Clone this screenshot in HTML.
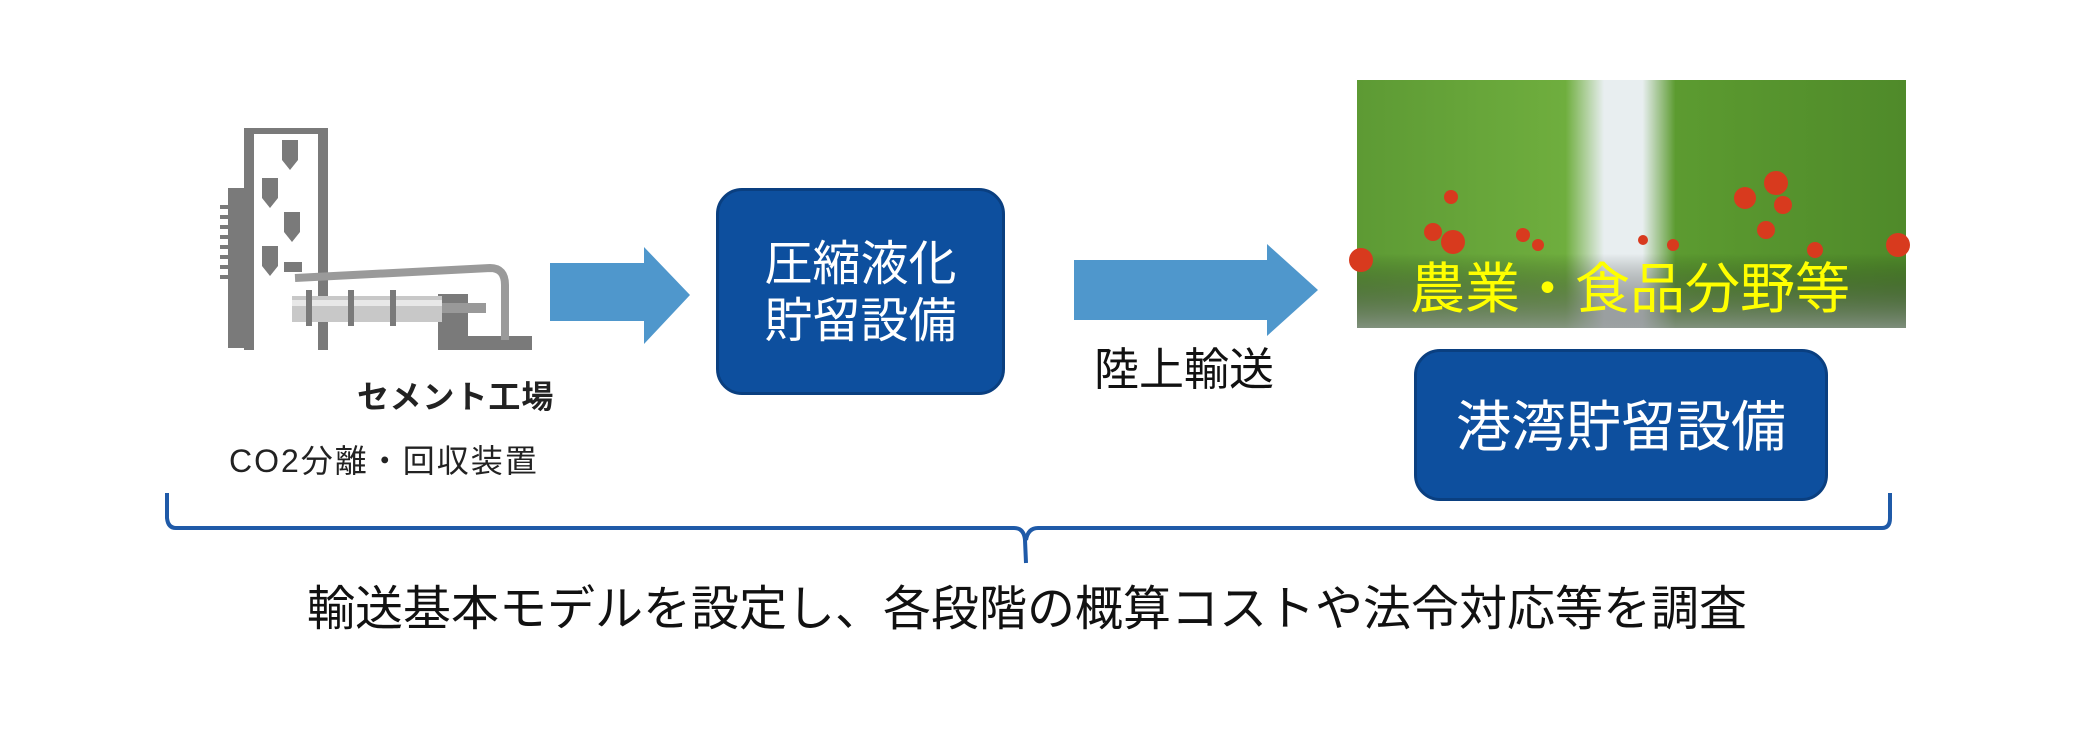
<!DOCTYPE html>
<html><head><meta charset="utf-8"><style>
body{margin:0;width:2080px;height:738px;background:#fff;position:relative;overflow:hidden;font-family:"Liberation Sans","Noto Sans CJK JP",sans-serif}
.a{position:absolute}
.box{position:absolute;background:#0d4f9e;border:3px solid #0a3f80;border-radius:26px;color:#fff;text-align:center;box-sizing:border-box}
</style></head><body>
<svg class="a" style="left:0;top:0" width="2080" height="738">
 <g fill="#7a7a7a">
  <rect x="244" y="128" width="10" height="222"/>
  <rect x="318" y="128" width="10" height="222"/>
  <rect x="244" y="128" width="84" height="6"/>
  <rect x="228" y="188" width="16" height="160"/>
  <rect x="220" y="205" width="8" height="4"/><rect x="220" y="215" width="8" height="4"/><rect x="220" y="225" width="8" height="4"/><rect x="220" y="235" width="8" height="4"/><rect x="220" y="245" width="8" height="4"/><rect x="220" y="255" width="8" height="4"/><rect x="220" y="265" width="8" height="4"/><rect x="220" y="275" width="8" height="4"/>
  <path d="M282 140h16v20l-8 10l-8-10z"/><path d="M262 178h16v20l-8 10l-8-10z"/><path d="M284 212h16v20l-8 10l-8-10z"/><path d="M262 246h16v20l-8 10l-8-10z"/>
  <rect x="284" y="262" width="18" height="10"/>
  <rect x="438" y="294" width="30" height="46"/>
  <rect x="438" y="336" width="94" height="14"/>
 </g>
 <path d="M295 278 L490 268 Q505 268 505 285 L505 340" stroke="#9a9a9a" stroke-width="8" fill="none"/>
 <rect x="292" y="296" width="150" height="26" fill="#c8c8c8"/>
 <rect x="292" y="300" width="150" height="6" fill="#e8e8e8"/>
 <g fill="#7a7a7a"><rect x="306" y="290" width="6" height="36"/><rect x="348" y="290" width="6" height="36"/><rect x="390" y="290" width="6" height="36"/></g>
 <rect x="442" y="303" width="44" height="10" fill="#999"/>
 <polygon points="550,263 644,263 644,247 690,295 644,344 644,321 550,321" fill="#4f97cc"/>
 <polygon points="1074,260 1267,260 1267,244 1318,290 1267,336 1267,320 1074,320" fill="#4f97cc"/>
 <defs>
  <linearGradient id="g1" x1="0" x2="1"><stop offset="0" stop-color="#5d9a34"/><stop offset="0.38" stop-color="#6fae3e"/><stop offset="0.45" stop-color="#e8eef0"/><stop offset="0.52" stop-color="#e8eef0"/><stop offset="0.58" stop-color="#5c9b30"/><stop offset="1" stop-color="#4f8a2a"/></linearGradient>
  <linearGradient id="g2" x1="0" y1="0" x2="0" y2="1"><stop offset="0.7" stop-color="#000" stop-opacity="0"/><stop offset="1" stop-color="#8a8f90" stop-opacity="0.8"/></linearGradient>
 </defs>
 <g transform="translate(-7,0)">
 <rect x="1364" y="80" width="549" height="248" fill="url(#g1)"/>
 <rect x="1364" y="80" width="549" height="248" fill="url(#g2)"/>
 <g fill="#d83a1e">
  <circle cx="1458" cy="197" r="7"/><circle cx="1460" cy="242" r="12"/><circle cx="1440" cy="232" r="9"/><circle cx="1368" cy="260" r="12"/><circle cx="1530" cy="235" r="7"/><circle cx="1545" cy="245" r="6"/>
  <circle cx="1783" cy="183" r="12"/><circle cx="1752" cy="198" r="11"/><circle cx="1790" cy="205" r="9"/><circle cx="1773" cy="230" r="9"/><circle cx="1822" cy="250" r="8"/><circle cx="1905" cy="245" r="12"/><circle cx="1680" cy="245" r="6"/><circle cx="1650" cy="240" r="5"/>
 </g>
 </g>
 <path d="M167 493 L167 518 Q168 528 176 528 L1014 528 Q1024 528 1025 540 L1026 563 M1026 540 Q1028 528 1038 528 L1882 528 Q1890 528 1890 518 L1890 493" stroke="#1f5aa8" stroke-width="4" fill="none"/>
</svg>
<div class="a" style="left:357px;top:372px;font-size:32px;font-weight:bold;color:#222;letter-spacing:1px">セメント工場</div>
<div class="a" style="left:229px;top:436px;font-size:32px;color:#222;letter-spacing:2px">CO2分離・回収装置</div>
<div class="box" style="left:716px;top:188px;width:289px;height:207px;font-size:48px;line-height:57px;padding-top:45px">圧縮液化<br>貯留設備</div>
<div class="a" style="left:1094px;top:333px;font-size:45px;color:#111">陸上輸送</div>
<div class="a" style="left:1410px;top:244px;font-size:55px;color:#ffff00;white-space:nowrap">農業・食品分野等</div>
<div class="box" style="left:1414px;top:349px;width:414px;height:152px;font-size:55px;line-height:150px">港湾貯留設備</div>
<div class="a" style="left:307px;top:569px;font-size:48px;color:#111;white-space:nowrap;letter-spacing:0px">輸送基本モデルを設定し、各段階の概算コストや法令対応等を調査</div>
</body></html>
